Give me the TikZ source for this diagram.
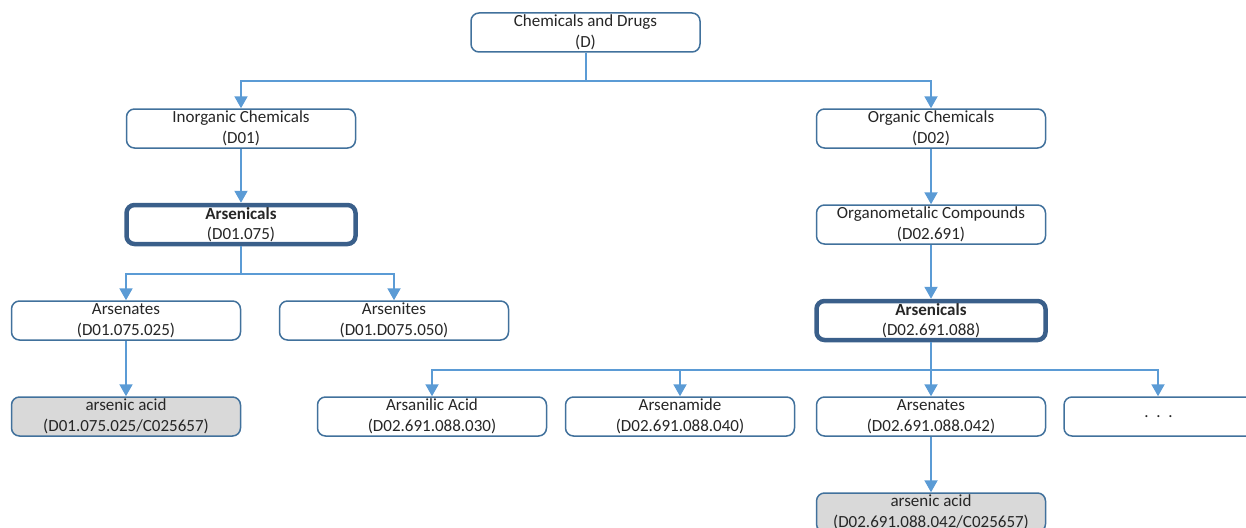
\documentclass[tikz,border=0pt]{standalone}
\usepackage{fontspec}
\setmainfont{Carlito}
\usetikzlibrary{arrows.meta}
\definecolor{boxline}{RGB}{65,113,156}
\definecolor{thickline}{RGB}{58,95,138}
\definecolor{arrowc}{RGB}{91,155,213}
\definecolor{grayfill}{RGB}{217,217,217}
\definecolor{txt}{RGB}{38,38,38}
\begin{document}
\begin{tikzpicture}[x=1pt,y=-1pt,
  box/.style={draw=boxline,line width=1.5pt,rounded corners=8pt,fill=white,
    minimum width=229pt,minimum height=39pt,inner sep=0pt,align=center,
    font=\fontsize{17}{20.5}\selectfont,text=txt},
  hbox/.style={box,draw=thickline,line width=4.5pt},
  gbox/.style={box,fill=grayfill},
  arr/.style={draw=arrowc,line width=2pt,-{Triangle[width=13pt,length=12pt]}}]
\useasboundingbox (0,0) rectangle (1246,527);
\node[box] (chem) at (585.5,32.5) {Chemicals and Drugs\\(D)};
\node[box] (inorg) at (241,128.5) {Inorganic Chemicals\\(D01)};
\node[box] (org) at (931,128.5) {Organic Chemicals\\(D02)};
\node[hbox] (ars1) at (241,224.5) {\textbf{Arsenicals}\\(D01.075)};
\node[box] (orgmet) at (931,224.5) {Organometalic Compounds\\(D02.691)};
\node[box] (arsn1) at (126,320.5) {Arsenates\\(D01.075.025)};
\node[box] (arsit) at (394,320.5) {Arsenites\\(D01.D075.050)};
\node[hbox] (ars2) at (931,320.5) {\textbf{Arsenicals}\\(D02.691.088)};
\node[gbox] (acid1) at (126,416.5) {arsenic acid\\(D01.075.025/C025657)};
\node[box] (arsan) at (432,416.5) {Arsanilic Acid\\(D02.691.088.030)};
\node[box] (arsam) at (680,416.5) {Arsenamide\\(D02.691.088.040)};
\node[box] (arsn2) at (931,416.5) {Arsenates\\(D02.691.088.042)};
\node[box] (dots) at (1178.5,416.5) {\hspace*{-40pt}.\ \ .\ \ .};
\node[gbox] (acid2) at (931,512.5) {arsenic acid\\(D02.691.088.042/C025657)};
\draw[arr] (chem.south) -- ++(0,28) -| (inorg.north);
\draw[arr] (chem.south) -- ++(0,28) -| (org.north);
\draw[arr] (inorg.south) -- (ars1.north);
\draw[arr] (org.south) -- (orgmet.north);
\draw[arr] (orgmet.south) -- (ars2.north);
\draw[arr] (ars1.south) -- ++(0,28) -| (arsn1.north);
\draw[arr] (ars1.south) -- ++(0,28) -| (arsit.north);
\draw[arr] (arsn1.south) -- (acid1.north);
\draw[arr] (ars2.south) -- ++(0,28) -| (arsan.north);
\draw[arr] (ars2.south) -- ++(0,28) -| (arsam.north);
\draw[arr] (ars2.south) -- (arsn2.north);
\draw[arr] (ars2.south) -- ++(0,28) -| ([xshift=-20.5pt]dots.north);
\draw[arr] (arsn2.south) -- (acid2.north);
\end{tikzpicture}
\end{document}
